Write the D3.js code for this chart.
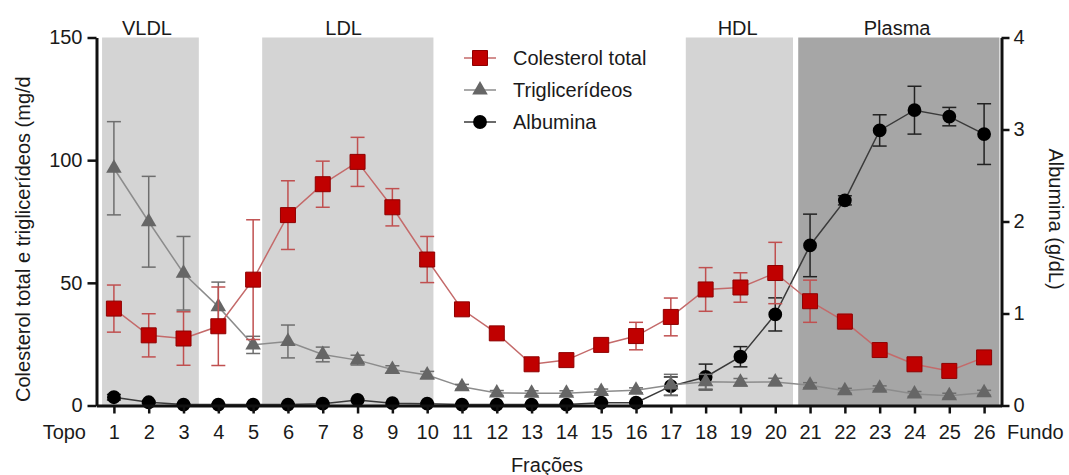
<!DOCTYPE html>
<html>
<head>
<meta charset="utf-8">
<script src="https://cdn.jsdelivr.net/npm/d3@7"></script>
<style>
  html, body { margin: 0; padding: 0; background: #fff; }
  svg { display: block; font-family: "Liberation Sans", Arial, Helvetica, sans-serif; }
  .axis text { font-size: 20px; fill: #1a1a1a; }
</style>
</head>
<body>
<svg id="chart" width="1069" height="475"></svg>
<script>
// Fractions collected from the gradient, top (1) to bottom (26)
const fractions = [1, 2, 3, 4, 5, 6, 7, 8, 9, 10, 11, 12, 13, 14, 15, 16, 17, 18, 19, 20, 21, 22, 23, 24, 25, 26];

// Total cholesterol (mg/dL), mean and error
const cholesterol = [39.5, 28.6, 27.3, 32.3, 51.3, 77.6, 90.2, 99.3, 80.8, 59.5, 39.2, 29.4, 16.8, 18.5, 24.7, 28.3, 36.1, 47.3, 48.1, 54.0, 42.5, 34.2, 22.6, 16.8, 14.1, 19.6];
const cholesterolErr = [9.6, 8.8, 10.9, 16.0, 24.4, 14.0, 9.4, 10.0, 7.6, 9.4, 2.5, 2.5, 2.0, 2.0, 2.5, 5.6, 7.7, 8.9, 6.0, 12.5, 8.6, 3.0, 2.0, 2.0, 2.0, 2.5];

// Triglycerides (mg/dL), mean and error
const triglycerides = [96.7, 74.9, 53.9, 40.3, 24.7, 26.1, 20.8, 18.5, 14.7, 12.4, 7.6, 5.1, 5.0, 5.0, 5.7, 6.2, 8.4, 9.7, 9.5, 9.6, 8.3, 6.0, 7.0, 4.7, 4.0, 5.2];
const triglyceridesErr = [19.0, 18.5, 15.0, 10.0, 3.5, 6.7, 3.0, 2.0, 1.5, 1.5, 1.0, 1.0, 1.0, 1.0, 1.0, 1.0, 4.3, 3.0, 1.5, 1.5, 1.0, 1.0, 1.0, 1.0, 1.0, 1.0];

// Albumin (g/dL), mean and error
const albumin = [0.09, 0.035, 0.01, 0.01, 0.01, 0.01, 0.02, 0.06, 0.025, 0.02, 0.01, 0.01, 0.01, 0.01, 0.03, 0.03, 0.21, 0.31, 0.53, 0.99, 1.74, 2.23, 2.99, 3.21, 3.14, 2.95];
const albuminErr = [0.03, 0.01, 0.01, 0.01, 0.01, 0.01, 0.01, 0.01, 0.01, 0.01, 0.01, 0.01, 0.01, 0.01, 0.01, 0.01, 0.10, 0.14, 0.11, 0.18, 0.34, 0.05, 0.17, 0.26, 0.10, 0.33];

// Lipoprotein zones along the fraction axis
const zoneNames = ["VLDL", "LDL", "HDL", "Plasma"];
const zoneStart = [0.66, 5.26, 17.43, 20.66];
const zoneEnd = [3.44, 10.18, 20.51, 26.44];
const zoneLabelAt = [1.95, 7.6, 18.92, 23.5];
const zoneFill = ["#d4d4d4", "#d4d4d4", "#d4d4d4", "#a6a6a6"];

// Axis ticks
const leftTicks = [0, 50, 100, 150];
const rightTicks = [0, 1, 2, 3, 4];

const legendNames = ["Colesterol total", "Triglicerídeos", "Albumina"];

const svg = d3.select("#chart");

const x = d3.scaleLinear().domain([0.5, 26.5]).range([96.5, 1001.5]);
const yL = d3.scaleLinear().domain([0, 150]).range([405.5, 37.5]);
const yR = d3.scaleLinear().domain([0, 4]).range([405.5, 37.5]);

// Shaded zones
const zones = zoneNames.map((n, i) => ({ name: n, s: zoneStart[i], e: zoneEnd[i], at: zoneLabelAt[i], fill: zoneFill[i] }));
svg.append("g").selectAll("rect").data(zones).join("rect")
  .attr("x", d => x(d.s)).attr("width", d => x(d.e) - x(d.s))
  .attr("y", yL(150)).attr("height", yL(0) - yL(150))
  .attr("fill", d => d.fill);
svg.append("g").selectAll("text").data(zones).join("text")
  .attr("x", d => x(d.at)).attr("y", 35)
  .attr("text-anchor", "middle")
  .attr("font-size", 20).attr("fill", "#1a1a1a")
  .text(d => d.name);

// Series definitions
const series = [
  { vals: albumin, err: albuminErr, y: yR, line: "#3a3a3a", errColor: "#222", sym: d3.symbolCircle, size: 150, fill: "#000", stroke: "none" },
  { vals: triglycerides, err: triglyceridesErr, y: yL, line: "#8c8c8c", errColor: "#6e6e6e", sym: d3.symbolTriangle, size: 105, fill: "#666", stroke: "none" },
  { vals: cholesterol, err: cholesterolErr, y: yL, line: "#c46a6a", errColor: "#c05050", sym: d3.symbolSquare, size: 225, fill: "#c00000", stroke: "#8e0000" }
];

const capHalf = 7;
series.forEach(s => {
  const pts = fractions.map((f, i) => ({ f, v: s.vals[i], e: s.err[i] }));
  const g = svg.append("g");
  g.append("path").datum(pts)
    .attr("fill", "none").attr("stroke", s.line).attr("stroke-width", 1.5)
    .attr("d", d3.line().x(d => x(d.f)).y(d => s.y(d.v)));
  const eb = g.append("g").attr("stroke", s.errColor).attr("stroke-width", 1.5);
  eb.selectAll("line.v").data(pts).join("line").attr("class", "v")
    .attr("x1", d => x(d.f)).attr("x2", d => x(d.f))
    .attr("y1", d => s.y(d.v - d.e)).attr("y2", d => s.y(d.v + d.e));
  eb.selectAll("line.t").data(pts).join("line").attr("class", "t")
    .attr("x1", d => x(d.f) - capHalf).attr("x2", d => x(d.f) + capHalf)
    .attr("y1", d => s.y(d.v + d.e)).attr("y2", d => s.y(d.v + d.e));
  eb.selectAll("line.b").data(pts).join("line").attr("class", "b")
    .attr("x1", d => x(d.f) - capHalf).attr("x2", d => x(d.f) + capHalf)
    .attr("y1", d => s.y(d.v - d.e)).attr("y2", d => s.y(d.v - d.e));
  g.selectAll("path.m").data(pts).join("path").attr("class", "m")
    .attr("transform", d => `translate(${x(d.f)},${s.y(d.v)})`)
    .attr("d", d3.symbol(s.sym, s.size))
    .attr("fill", s.fill).attr("stroke", s.stroke).attr("stroke-width", 1);
});

// Axes
function styleAxis(g) {
  g.selectAll(".domain").attr("stroke", "#111").attr("stroke-width", 3);
  g.selectAll(".tick line").attr("stroke", "#111").attr("stroke-width", 2.5);
  g.attr("font-family", null).attr("font-size", null);
}
svg.append("g").attr("class", "axis")
  .attr("transform", `translate(${x(0.5)},0)`)
  .call(d3.axisLeft(yL).tickValues(leftTicks).tickFormat(d3.format("d")).tickSize(9).tickSizeOuter(0).tickPadding(5))
  .call(styleAxis);
svg.append("g").attr("class", "axis")
  .attr("transform", `translate(${x(26.5)},0)`)
  .call(d3.axisRight(yR).tickValues(rightTicks).tickFormat(d3.format("d")).tickSize(8).tickSizeOuter(0).tickPadding(4))
  .call(styleAxis);
svg.append("g").attr("class", "axis")
  .attr("transform", `translate(0,${yL(0)})`)
  .call(d3.axisBottom(x).tickValues(fractions).tickFormat(d3.format("d")).tickSize(8).tickSizeOuter(0).tickPadding(11))
  .call(styleAxis);

// End labels of the fraction axis
svg.append("text").attr("x", 86).attr("y", 439).attr("text-anchor", "end")
  .attr("font-size", 20).attr("fill", "#1a1a1a").text("Topo");
svg.append("text").attr("x", 1007).attr("y", 439).attr("text-anchor", "start")
  .attr("font-size", 20).attr("fill", "#1a1a1a").text("Fundo");

// Axis titles
svg.append("text").attr("x", 547).attr("y", 472).attr("text-anchor", "middle")
  .attr("font-size", 20).attr("fill", "#1a1a1a").text("Frações");
svg.append("text").attr("transform", "translate(30,402) rotate(-90)")
  .attr("text-anchor", "start").attr("font-size", 20).attr("fill", "#1a1a1a")
  .text("Colesterol total e triglicerídeos (mg/d");
svg.append("text").attr("transform", "translate(1049,219) rotate(90)")
  .attr("text-anchor", "middle").attr("font-size", 20).attr("fill", "#1a1a1a")
  .text("Albumina (g/dL)");

// Legend
const legendSeries = [series[2], series[1], series[0]];
const legRows = [58, 90, 122];
const leg = svg.append("g");
legendSeries.forEach((s, i) => {
  const yy = legRows[i];
  leg.append("line").attr("x1", 464).attr("x2", 496).attr("y1", yy).attr("y2", yy)
    .attr("stroke", s.line).attr("stroke-width", 1.5);
  leg.append("path").attr("transform", `translate(480,${yy})`)
    .attr("d", d3.symbol(s.sym, s.size)).attr("fill", s.fill).attr("stroke", s.stroke);
  leg.append("text").attr("x", 513).attr("y", yy + 7)
    .attr("font-size", 20).attr("fill", "#1a1a1a").text(legendNames[i]);
});
</script>
</body>
</html>
